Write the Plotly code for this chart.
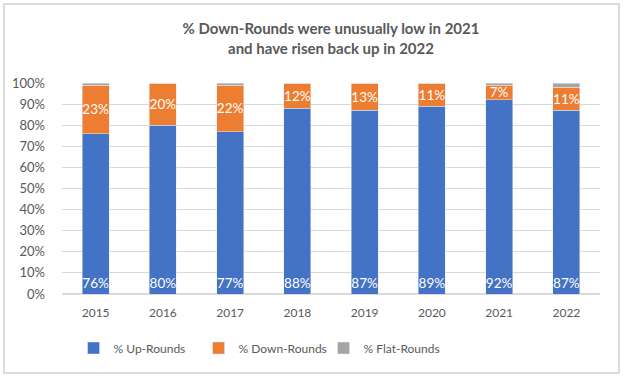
import plotly.graph_objects as go

years = ["2015", "2016", "2017", "2018", "2019", "2020", "2021", "2022"]
up_rounds = [76, 80, 77, 88, 87, 89, 92, 87]
down_rounds = [23, 20, 22, 12, 13, 11, 7, 11]
flat_rounds = [1, 0, 1, 0, 0, 0, 1, 2]

title_text = "% Down-Rounds were unusually low in 2021<br>and have risen back up in 2022"
font_family = "Lato, 'Open Sans', sans-serif"
gray_text = "#595959"

fig = go.Figure()
fig.add_trace(go.Bar(
    x=years, y=up_rounds, name="% Up-Rounds", marker_color="#4472C4",
    text=[f"{v}%" for v in up_rounds], textposition="inside",
    insidetextanchor="start", textangle=0,
    textfont=dict(color="white", size=13.5, family=font_family),
    constraintext="none",
))
fig.add_trace(go.Bar(
    x=years, y=down_rounds, name="% Down-Rounds", marker_color="#ED7D31",
    text=[f"{v}%" for v in down_rounds], textposition="inside",
    insidetextanchor="middle", textangle=0,
    textfont=dict(color="white", size=13.5, family=font_family),
    constraintext="none",
))
fig.add_trace(go.Bar(
    x=years, y=flat_rounds, name="% Flat-Rounds", marker_color="#A5A5A5",
    hoverinfo="y",
))

fig.update_layout(
    barmode="stack",
    bargap=0.6,
    width=624, height=377,
    margin=dict(l=62, r=24, t=83, b=83),
    paper_bgcolor="white", plot_bgcolor="white",
    font=dict(family=font_family, color=gray_text, size=12),
    title=dict(text=title_text, x=0.5, xref="paper", xanchor="center",
               y=1 - 34 / 377, yanchor="middle",
               font=dict(size=15, color=gray_text, family=font_family, weight="bold")),
    uniformtext=dict(minsize=8, mode="show"),
    showlegend=True,
    legend=dict(orientation="h", x=0.37, xanchor="center", y=-0.256, yanchor="middle",
                font=dict(size=12, color=gray_text), traceorder="normal",
                itemwidth=30, entrywidth=80, entrywidthmode="pixels"),
    shapes=[dict(type="rect", xref="paper", yref="paper",
                 x0=-0.1078, x1=1.0353, y0=-0.374, y1=1.374,
                 line=dict(color="#D0D0D0", width=1.5), layer="below")],
)
fig.update_yaxes(range=[0, 100], dtick=10, ticksuffix="%", showgrid=True,
                 gridcolor="#D9D9D9", zeroline=True, zerolinecolor="#D9D9D9",
                 tickfont=dict(size=13, color=gray_text), ticks="", showline=False,
                 ticklabelstandoff=16)
fig.update_xaxes(tickfont=dict(size=12, color=gray_text), showline=False, ticks="",
                 ticklabelstandoff=10)

fig.write_html("out.html", config={"displayModeBar": False},
               post_script="document.body.style.margin='0';document.body.style.overflow='hidden';")
